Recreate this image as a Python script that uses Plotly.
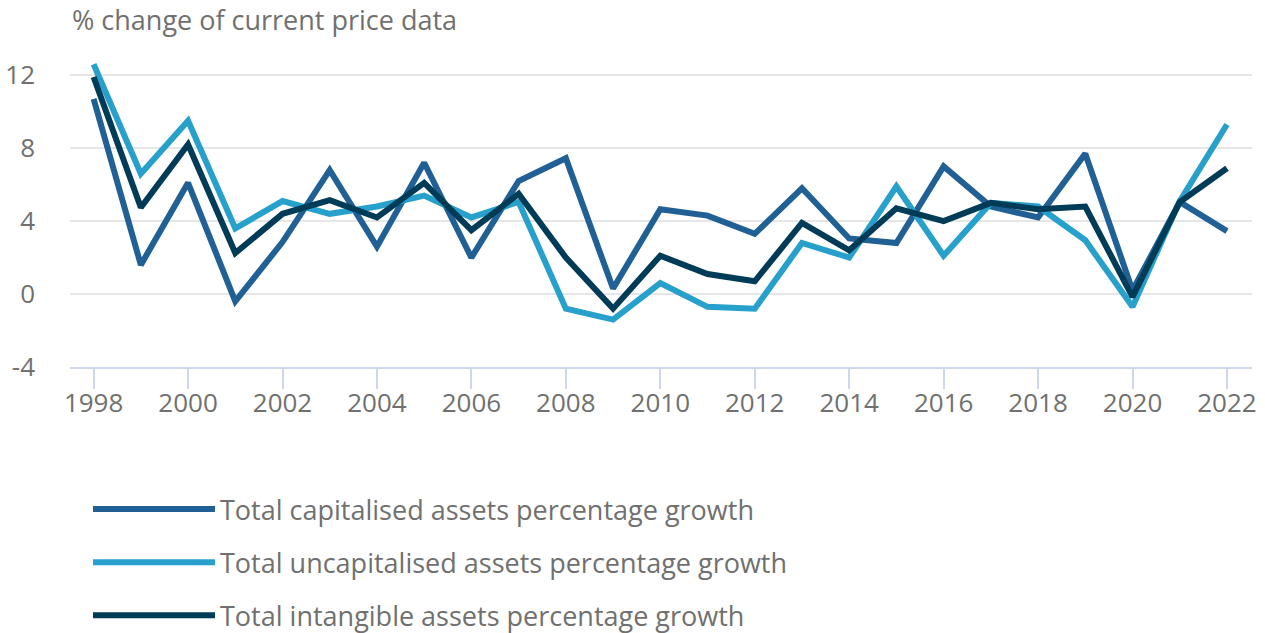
import plotly.graph_objects as go

years = list(range(1998, 2023))

capitalised = [10.7, 1.6, 6.1, -0.4, 2.85, 6.8, 2.6, 7.2, 2.0, 6.2, 7.45, 0.3, 4.65, 4.3, 3.3,
               5.8, 3.05, 2.8, 7.0, 4.8, 4.2, 7.7, 0.2, 5.05, 3.45]
uncapitalised = [12.6, 6.6, 9.5, 3.6, 5.1, 4.4, 4.8, 5.4, 4.2, 5.05, -0.8, -1.4, 0.6, -0.7, -0.8,
                 2.8, 2.0, 5.9, 2.1, 5.0, 4.8, 2.95, -0.7, 5.1, 9.3]
intangible = [11.9, 4.75, 8.2, 2.25, 4.4, 5.15, 4.2, 6.1, 3.5, 5.5, 2.0, -0.8, 2.1, 1.1, 0.7,
              3.9, 2.4, 4.7, 4.0, 5.0, 4.65, 4.8, -0.15, 5.05, 6.9]

series_names = [
    "Total capitalised assets percentage growth",
    "Total uncapitalised assets percentage growth",
    "Total intangible assets percentage growth",
]
series_colors = ["#206095", "#27a0cc", "#003c57"]
y_ticks = [-4, 0, 4, 8, 12]
x_ticks = list(range(1998, 2023, 2))

fig = go.Figure()
for i, (name, vals, col) in enumerate(zip(series_names, [capitalised, uncapitalised, intangible], series_colors)):
    fig.add_trace(go.Scatter(
        x=years, y=vals, name=name, mode="lines",
        line=dict(color=col, width=6),
        legendgroup=f"g{i}",
    ))

text_color = "#707070"
fig.update_layout(
    width=1265, height=633,
    margin=dict(l=70, r=13, t=57, b=266, autoexpand=False),
    paper_bgcolor="white", plot_bgcolor="white",
    font=dict(family="Open Sans", color=text_color, size=26),
    showlegend=True,
    legend=dict(
        orientation="v",
        xref="container", yref="container",
        x=88 / 1265, y=1 - 485 / 633,
        xanchor="left", yanchor="top",
        font=dict(size=27, color=text_color),
        itemwidth=122,
        tracegroupgap=15,
        traceorder="grouped",
    ),
    xaxis=dict(
        range=[1997.5, 2022.53],
        tickvals=x_ticks,
        ticktext=[str(v) for v in x_ticks],
        tickangle=0,
        showgrid=False,
        showline=True, linecolor="#cfd8ea", linewidth=2,
        ticks="outside", ticklen=20, tickwidth=2, tickcolor="#cfd8ea",
        tickfont=dict(size=26, color=text_color),
        ticklabelstandoff=-8,
        zeroline=False,
    ),
    yaxis=dict(
        range=[-4, 13],
        tickvals=y_ticks,
        ticktext=[str(v) for v in y_ticks],
        showgrid=True, gridcolor="#e6e6e6", gridwidth=2,
        zeroline=False, showline=False,
        ticks="", ticklabelstandoff=34,
        tickfont=dict(size=26, color=text_color),
    ),
    annotations=[dict(
        text="% change of current price data",
        xref="paper", yref="paper",
        x=0, y=(367 - 20) / 310, xanchor="left", yanchor="middle",
        showarrow=False, font=dict(size=27, color=text_color),
    )],
)

fig.write_html("out.html", config={"displayModeBar": False},
               post_script="document.body.style.margin='0';")
